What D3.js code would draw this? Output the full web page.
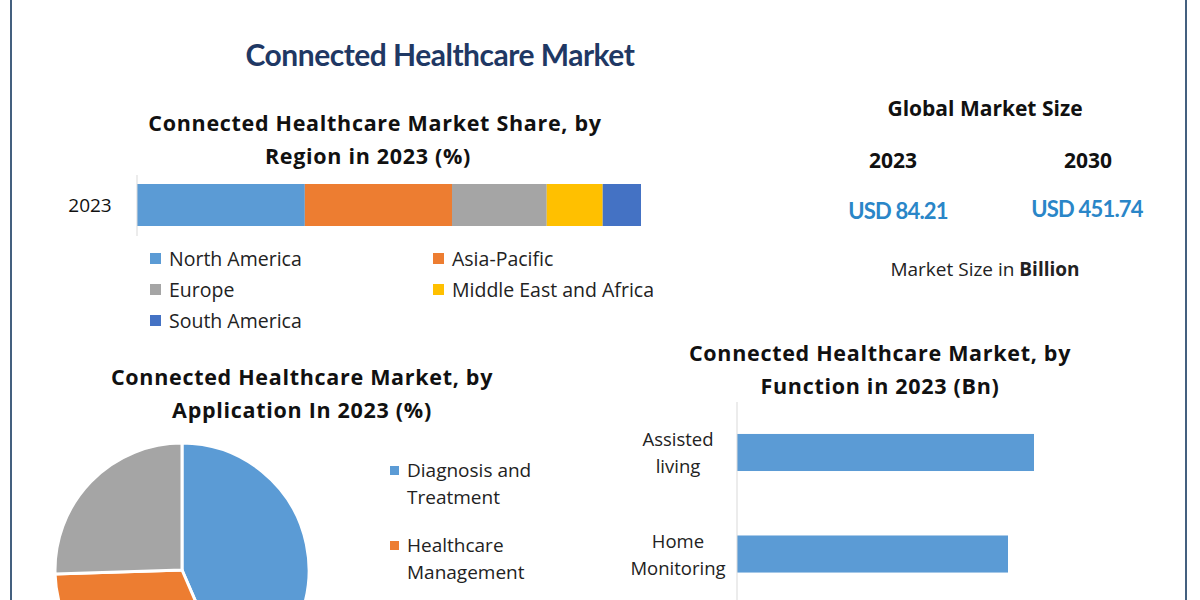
<!DOCTYPE html>
<html><head><meta charset="utf-8">
<script src="https://cdn.jsdelivr.net/npm/d3@7"></script>
<style>body{margin:0;background:#fff}svg{display:block;font-family:"Open Sans",sans-serif}</style>
</head><body><svg id="c" width="1200" height="600"></svg>
<script>
const regionCategories=["North America","Asia-Pacific","Europe","Middle East and Africa","South America"];
const regionValues=[33.3,29.2,18.8,11.1,7.6];
const regionColors=["#5b9bd5","#ed7d31","#a5a5a5","#ffc000","#4472c4"];
const appCategories=["Diagnosis and Treatment","Healthcare Management","Others"];
const appValues=[43.5,31,25.5];
const appColors=["#5b9bd5","#ed7d31","#a5a5a5"];
const funcCategories=["Assisted living","Home Monitoring"];
const funcValues=[29.7,27.1];
const sizeYears=["2023","2030"];
const sizeValues=["USD 84.21","USD 451.74"];

const svg=d3.select("#c");
svg.append("rect").attr("x",11).attr("y",-5).attr("width",1175).attr("height",620).attr("fill","none").attr("stroke","#44607f").attr("stroke-width",2);
function txt(x,y,t,o={}){const e=svg.append("text").attr("x",x).attr("y",y).attr("text-anchor",o.a||"middle").attr("font-size",o.s||20).attr("font-weight",o.w||"normal").attr("fill",o.c||"#111").text(t);if(o.f)e.attr("font-family",o.f);if(o.ls)e.attr("letter-spacing",o.ls);return e;}
const B={s:21.5,w:"bold",ls:0.7};
txt(440,66,"Connected Healthcare Market",{s:30,w:"bold",c:"#1f3864",f:"Lato",ls:-0.5});
txt(375,131,"Connected Healthcare Market Share, by",B);
txt(368,164,"Region in 2023 (%)",B);

// stacked bar
const xs=d3.scaleLinear().domain([0,d3.sum(regionValues)]).range([137,641]);
const cum=d3.cumsum(regionValues);
svg.selectAll(".sb").data(regionValues).join("rect").attr("x",(d,i)=>xs(cum[i]-d)).attr("width",d=>xs(d)-xs(0)).attr("y",184).attr("height",42).attr("fill",(d,i)=>regionColors[i]);
svg.append("line").attr("x1",137).attr("x2",137).attr("y1",175).attr("y2",236).attr("stroke","#d9d9d9");
txt(90,212,"2023",{s:19});
const lpos=[[150,259],[433,259],[150,290],[433,290],[150,321]];
regionCategories.forEach((c,i)=>{svg.append("rect").attr("x",lpos[i][0]).attr("y",lpos[i][1]-6).attr("width",11).attr("height",11).attr("fill",regionColors[i]);txt(lpos[i][0]+19,lpos[i][1]+7,c,{a:"start",s:19.5,c:"#222"});});

// market size
txt(985,116,"Global Market Size",{s:21,w:"bold"});
[[893,168],[1088,168]].forEach((p,i)=>txt(p[0],p[1],sizeYears[i],{s:21,w:"bold"}));
[[898,219],[1087,217]].forEach((p,i)=>txt(p[0],p[1],sizeValues[i],{s:22,w:"bold",f:"Lato",c:"#2a86c8",ls:-0.8}));
const ms=txt(985,276,"",{s:19,c:"#222"});ms.append("tspan").text("Market Size in ");ms.append("tspan").attr("font-weight","bold").text("Billion");

// pie
txt(302,385,"Connected Healthcare Market, by",B);
txt(302,418,"Application In 2023 (%)",B);
const pie=d3.pie().sort(null)(appValues);
const arc=d3.arc().innerRadius(0).outerRadius(127);
svg.append("g").attr("transform","translate(182,570)").selectAll("path").data(pie).join("path").attr("d",arc).attr("fill",(d,i)=>appColors[i]).attr("stroke","#fff").attr("stroke-width",3);
const al=[[["Diagnosis and","Treatment"],470],[["Healthcare","Management"],545]];
al.forEach((l,i)=>{svg.append("rect").attr("x",390).attr("y",l[1]-4).attr("width",9).attr("height",9).attr("fill",appColors[i]);l[0].forEach((t,j)=>txt(407,l[1]+7+j*27,t,{a:"start",s:19,c:"#222"}));});

// function bars
txt(880,361,"Connected Healthcare Market, by",B);
txt(880,394,"Function in 2023 (Bn)",B);
const fx=d3.scaleLinear().domain([0,35]).range([737,737+350]);
const fy=d3.scaleBand().domain(funcCategories).range([403.5,603]).paddingInner(0.635).paddingOuter(0.3);
svg.selectAll(".fb").data(funcValues).join("rect").attr("x",fx(0)).attr("y",(d,i)=>fy(funcCategories[i])).attr("height",fy.bandwidth()).attr("width",d=>fx(d)-fx(0)).attr("fill","#5b9bd5");
svg.append("line").attr("x1",737).attr("x2",737).attr("y1",402).attr("y2",600).attr("stroke","#d9d9d9");
const fl=[["Assisted","living"],["Home","Monitoring"]];
fl.forEach((l,i)=>{const c=fy(funcCategories[i])+fy.bandwidth()/2;l.forEach((t,j)=>txt(678,c-6+j*27,t,{s:18.5,c:"#222"}));});
</script></body></html>
